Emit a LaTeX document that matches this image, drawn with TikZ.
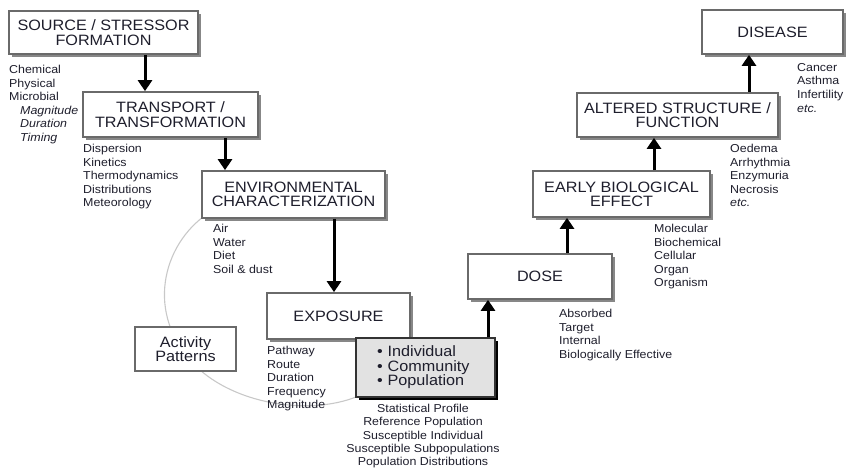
\documentclass[tikz,border=0pt]{standalone}
\usepackage{fontspec}
\setmainfont[FakeStretch=1.08]{Liberation Sans}
\usetikzlibrary{arrows.meta,shadows}
\definecolor{boxgray}{HTML}{6A6A6A}
\definecolor{shadowgray}{HTML}{878787}
\definecolor{txt}{HTML}{1E1E2C}
\definecolor{popfill}{HTML}{E2E2E2}
\definecolor{curvegray}{HTML}{C8C8C8}
\begin{document}
\begin{tikzpicture}[x=1pt,y=-1pt,
  box/.style={draw=boxgray, line width=1.7pt, fill=white, align=center,
    inner sep=0pt, text=txt, font=\fontsize{15}{14.3}\selectfont,
    drop shadow={shadow xshift=3pt, shadow yshift=-3pt, fill=shadowgray, opacity=1}},
  plainbox/.style={draw=boxgray, line width=1.7pt, fill=white, align=center,
    inner sep=0pt, text=txt, font=\fontsize{15}{14}\selectfont},
  popbox/.style={draw=black!80, line width=1.2pt, fill=popfill, align=left,
    inner sep=0pt, text=txt, font=\fontsize{15}{14.5}\selectfont,
    drop shadow={shadow xshift=3pt, shadow yshift=-3pt, fill=black, opacity=1}},
  lab/.style={anchor=north west, inner sep=0pt, align=left, text=txt,
    font=\fontsize{11.5}{13.6}\selectfont},
  labc/.style={anchor=north, inner sep=0pt, align=center, text=txt,
    font=\fontsize{11.5}{13.3}\selectfont},
  arr/.style={draw=black, line width=3pt, -{Triangle[length=11pt,width=14pt]}},
  loop/.style={draw=curvegray, line width=1.1pt}
]
\useasboundingbox (0,0) rectangle (846,468);

% activity loop, drawn first so the boxes cover it
\coordinate (loopstart) at (203,217);
\coordinate (loopend) at (356,397);
\draw[loop] (loopstart) .. controls (160,250) and (145,320) .. (200,370)
  .. controls (240,405) and (310,415) .. (loopend);

% main chain of boxes
\node[box, minimum width=189, minimum height=43] (src) at (103.5,32.5) {SOURCE / STRESSOR\\FORMATION};
\node[box, minimum width=175, minimum height=45] (trans) at (170.5,114.5) {TRANSPORT /\\TRANSFORMATION};
\node[box, minimum width=183, minimum height=47] (env) at (293.5,194.5) {ENVIRONMENTAL\\CHARACTERIZATION};
\node[box, minimum width=143, minimum height=46] (expo) at (338.5,316) {EXPOSURE};
\node[popbox, minimum width=139, minimum height=59, text width=97] (ind) at (425.5,367.5)
  {\textbullet\ Individual\\\textbullet\ Community\\\textbullet\ Population};
\node[plainbox, minimum width=101, minimum height=44] (act) at (185.5,349) {Activity\\Patterns};
\node[box, minimum width=144, minimum height=45] (dose) at (540,276.5) {DOSE};
\node[box, minimum width=177, minimum height=46] (early) at (621.5,194) {EARLY BIOLOGICAL\\EFFECT};
\node[box, minimum width=201, minimum height=44] (alt) at (677.5,115) {ALTERED STRUCTURE /\\FUNCTION};
\node[box, minimum width=141, minimum height=44] (dis) at (772.5,32) {DISEASE};

% connectors
\draw[arr] (145,0 |- src.south) -- (145,0 |- trans.north);
\draw[arr] (225,0 |- trans.south) -- (225,0 |- env.north);
\draw[arr] (334,0 |- env.south) -- (334,0 |- expo.north);
\draw[arr] (488,0 |- ind.north) -- (488,0 |- dose.south);
\draw[arr] (567,0 |- dose.north) -- (567,0 |- early.south);
\draw[arr] (654,0 |- early.north) -- (654,0 |- alt.south);
\draw[arr] (749,0 |- alt.north) -- (749,0 |- dis.south);

% descriptor lists
\node[lab] (srcl) at (9,65) {Chemical\\Physical\\Microbial\\
  \hspace*{11pt}\textit{Magnitude}\\\hspace*{11pt}\textit{Duration}\\\hspace*{11pt}\textit{Timing}};
\node[lab] (transl) at (83,144) {Dispersion\\Kinetics\\Thermodynamics\\Distributions\\Meteorology};
\node[lab] (envl) at (213,224) {Air\\Water\\Diet\\Soil \& dust};
\node[lab] (expol) at (267,346) {Pathway\\Route\\Duration\\Frequency\\Magnitude};
\node[labc] (indl) at (423,404) {Statistical Profile\\Reference Population\\Susceptible Individual\\Susceptible Subpopulations\\Population Distributions};
\node[lab] (dosel) at (559,309) {Absorbed\\Target\\Internal\\Biologically Effective};
\node[lab] (earlyl) at (654,224) {Molecular\\Biochemical\\Cellular\\Organ\\Organism};
\node[lab] (altl) at (730,144) {Oedema\\Arrhythmia\\Enzymuria\\Necrosis\\\textit{etc.}};
\node[lab] (disl) at (797,63) {Cancer\\Asthma\\Infertility\\\textit{etc.}};
\end{tikzpicture}
\end{document}
